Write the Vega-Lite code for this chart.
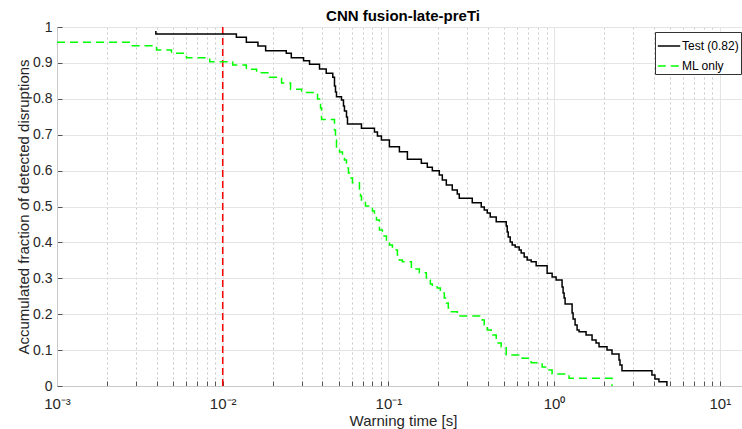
{
  "$schema": "https://vega.github.io/schema/vega-lite/v6.json",
  "width": 692,
  "height": 359,
  "autosize": {"type": "none"},
  "padding": {"left": 57, "top": 27, "right": 0, "bottom": 43},
  "background": "white",
  "title": {"text": "CNN fusion-late-preTi", "font": "Liberation Sans", "fontSize": 15, "fontWeight": "bold", "color": "#000000", "anchor": "middle", "offset": -4},
  "datasets": {
    "curves": [
      {"series": "Test (0.82)", "t": 0.00395, "frac": 0.989},
      {"series": "Test (0.82)", "t": 0.00395, "frac": 0.9805},
      {"series": "Test (0.82)", "t": 0.01209, "frac": 0.9713},
      {"series": "Test (0.82)", "t": 0.01389, "frac": 0.9574},
      {"series": "Test (0.82)", "t": 0.01632, "frac": 0.9471},
      {"series": "Test (0.82)", "t": 0.01816, "frac": 0.934},
      {"series": "Test (0.82)", "t": 0.02419, "frac": 0.9267},
      {"series": "Test (0.82)", "t": 0.02594, "frac": 0.9145},
      {"series": "Test (0.82)", "t": 0.03076, "frac": 0.9061},
      {"series": "Test (0.82)", "t": 0.03342, "frac": 0.8961},
      {"series": "Test (0.82)", "t": 0.03839, "frac": 0.883},
      {"series": "Test (0.82)", "t": 0.04213, "frac": 0.871},
      {"series": "Test (0.82)", "t": 0.04617, "frac": 0.8599},
      {"series": "Test (0.82)", "t": 0.04727, "frac": 0.8357},
      {"series": "Test (0.82)", "t": 0.04793, "frac": 0.8189},
      {"series": "Test (0.82)", "t": 0.0486, "frac": 0.8059},
      {"series": "Test (0.82)", "t": 0.0521, "frac": 0.7967},
      {"series": "Test (0.82)", "t": 0.05356, "frac": 0.7799},
      {"series": "Test (0.82)", "t": 0.0543, "frac": 0.766},
      {"series": "Test (0.82)", "t": 0.05585, "frac": 0.7493},
      {"series": "Test (0.82)", "t": 0.05662, "frac": 0.7298},
      {"series": "Test (0.82)", "t": 0.06876, "frac": 0.7178},
      {"series": "Test (0.82)", "t": 0.08236, "frac": 0.7075},
      {"series": "Test (0.82)", "t": 0.08585, "frac": 0.6964},
      {"series": "Test (0.82)", "t": 0.09075, "frac": 0.6852},
      {"series": "Test (0.82)", "t": 0.1014, "frac": 0.6666},
      {"series": "Test (0.82)", "t": 0.1165, "frac": 0.6526},
      {"series": "Test (0.82)", "t": 0.1302, "frac": 0.6315},
      {"series": "Test (0.82)", "t": 0.158, "frac": 0.6203},
      {"series": "Test (0.82)", "t": 0.1717, "frac": 0.6092},
      {"series": "Test (0.82)", "t": 0.1841, "frac": 0.5997},
      {"series": "Test (0.82)", "t": 0.2028, "frac": 0.5877},
      {"series": "Test (0.82)", "t": 0.2115, "frac": 0.5738},
      {"series": "Test (0.82)", "t": 0.2236, "frac": 0.5599},
      {"series": "Test (0.82)", "t": 0.2429, "frac": 0.546},
      {"series": "Test (0.82)", "t": 0.2604, "frac": 0.5348},
      {"series": "Test (0.82)", "t": 0.2677, "frac": 0.5228},
      {"series": "Test (0.82)", "t": 0.3206, "frac": 0.5106},
      {"series": "Test (0.82)", "t": 0.3633, "frac": 0.4986},
      {"series": "Test (0.82)", "t": 0.3788, "frac": 0.4903},
      {"series": "Test (0.82)", "t": 0.3948, "frac": 0.4819},
      {"series": "Test (0.82)", "t": 0.4116, "frac": 0.4708},
      {"series": "Test (0.82)", "t": 0.4473, "frac": 0.4577},
      {"series": "Test (0.82)", "t": 0.5139, "frac": 0.4457},
      {"series": "Test (0.82)", "t": 0.5212, "frac": 0.429},
      {"series": "Test (0.82)", "t": 0.5284, "frac": 0.415},
      {"series": "Test (0.82)", "t": 0.5432, "frac": 0.4011},
      {"series": "Test (0.82)", "t": 0.5585, "frac": 0.3928},
      {"series": "Test (0.82)", "t": 0.5823, "frac": 0.3872},
      {"series": "Test (0.82)", "t": 0.6155, "frac": 0.3788},
      {"series": "Test (0.82)", "t": 0.6327, "frac": 0.3705},
      {"series": "Test (0.82)", "t": 0.6597, "frac": 0.3593},
      {"series": "Test (0.82)", "t": 0.6877, "frac": 0.351},
      {"series": "Test (0.82)", "t": 0.727, "frac": 0.3462},
      {"series": "Test (0.82)", "t": 0.7791, "frac": 0.3351},
      {"series": "Test (0.82)", "t": 0.9075, "frac": 0.3139},
      {"series": "Test (0.82)", "t": 0.9727, "frac": 0.3036},
      {"series": "Test (0.82)", "t": 1.028, "frac": 0.2953},
      {"series": "Test (0.82)", "t": 1.117, "frac": 0.2758},
      {"series": "Test (0.82)", "t": 1.133, "frac": 0.2591},
      {"series": "Test (0.82)", "t": 1.149, "frac": 0.2451},
      {"series": "Test (0.82)", "t": 1.165, "frac": 0.2284},
      {"series": "Test (0.82)", "t": 1.284, "frac": 0.2033},
      {"series": "Test (0.82)", "t": 1.302, "frac": 0.1866},
      {"series": "Test (0.82)", "t": 1.338, "frac": 0.1699},
      {"series": "Test (0.82)", "t": 1.376, "frac": 0.156},
      {"series": "Test (0.82)", "t": 1.414, "frac": 0.1513},
      {"series": "Test (0.82)", "t": 1.559, "frac": 0.1421},
      {"series": "Test (0.82)", "t": 1.694, "frac": 0.1281},
      {"series": "Test (0.82)", "t": 1.791, "frac": 0.1198},
      {"series": "Test (0.82)", "t": 1.867, "frac": 0.1095},
      {"series": "Test (0.82)", "t": 2.086, "frac": 0.1003},
      {"series": "Test (0.82)", "t": 2.236, "frac": 0.0891},
      {"series": "Test (0.82)", "t": 2.464, "frac": 0.0724},
      {"series": "Test (0.82)", "t": 2.498, "frac": 0.0585},
      {"series": "Test (0.82)", "t": 2.568, "frac": 0.0426},
      {"series": "Test (0.82)", "t": 3.894, "frac": 0.0306},
      {"series": "Test (0.82)", "t": 4.059, "frac": 0.0195},
      {"series": "Test (0.82)", "t": 4.291, "frac": 0.012},
      {"series": "Test (0.82)", "t": 4.794, "frac": 0},
      {"series": "ML only", "t": 0.001, "frac": 0.9574},
      {"series": "ML only", "t": 0.002818, "frac": 0.9479},
      {"series": "ML only", "t": 0.003987, "frac": 0.9359},
      {"series": "ML only", "t": 0.004909, "frac": 0.9267},
      {"series": "ML only", "t": 0.006044, "frac": 0.9145},
      {"series": "ML only", "t": 0.008351, "frac": 0.9034},
      {"series": "ML only", "t": 0.01149, "frac": 0.8942},
      {"series": "ML only", "t": 0.01389, "frac": 0.8822},
      {"series": "ML only", "t": 0.01602, "frac": 0.8727},
      {"series": "ML only", "t": 0.01919, "frac": 0.8599},
      {"series": "ML only", "t": 0.02266, "frac": 0.844},
      {"series": "ML only", "t": 0.02568, "frac": 0.8265},
      {"series": "ML only", "t": 0.02992, "frac": 0.8176},
      {"series": "ML only", "t": 0.03734, "frac": 0.7994},
      {"series": "ML only", "t": 0.03894, "frac": 0.7744},
      {"series": "ML only", "t": 0.03948, "frac": 0.7423},
      {"series": "ML only", "t": 0.04727, "frac": 0.7131},
      {"series": "ML only", "t": 0.04793, "frac": 0.6852},
      {"series": "ML only", "t": 0.0486, "frac": 0.6574},
      {"series": "ML only", "t": 0.05067, "frac": 0.6518},
      {"series": "ML only", "t": 0.05282, "frac": 0.6407},
      {"series": "ML only", "t": 0.0543, "frac": 0.6295},
      {"series": "ML only", "t": 0.05585, "frac": 0.6072},
      {"series": "ML only", "t": 0.05741, "frac": 0.5933},
      {"series": "ML only", "t": 0.05823, "frac": 0.5794},
      {"series": "ML only", "t": 0.06069, "frac": 0.5663},
      {"series": "ML only", "t": 0.06689, "frac": 0.5404},
      {"series": "ML only", "t": 0.06782, "frac": 0.5292},
      {"series": "ML only", "t": 0.06876, "frac": 0.5181},
      {"series": "ML only", "t": 0.0727, "frac": 0.5014},
      {"series": "ML only", "t": 0.08009, "frac": 0.4875},
      {"series": "ML only", "t": 0.08236, "frac": 0.4735},
      {"series": "ML only", "t": 0.08467, "frac": 0.4624},
      {"series": "ML only", "t": 0.0883, "frac": 0.4345},
      {"series": "ML only", "t": 0.09203, "frac": 0.4178},
      {"series": "ML only", "t": 0.09727, "frac": 0.3983},
      {"series": "ML only", "t": 0.1014, "frac": 0.3928},
      {"series": "ML only", "t": 0.1057, "frac": 0.3872},
      {"series": "ML only", "t": 0.1117, "frac": 0.3788},
      {"series": "ML only", "t": 0.1133, "frac": 0.3649},
      {"series": "ML only", "t": 0.1165, "frac": 0.351},
      {"series": "ML only", "t": 0.1214, "frac": 0.3462},
      {"series": "ML only", "t": 0.1376, "frac": 0.3259},
      {"series": "ML only", "t": 0.1537, "frac": 0.3156},
      {"series": "ML only", "t": 0.1694, "frac": 0.3008},
      {"series": "ML only", "t": 0.1742, "frac": 0.2953},
      {"series": "ML only", "t": 0.1791, "frac": 0.2841},
      {"series": "ML only", "t": 0.1841, "frac": 0.2758},
      {"series": "ML only", "t": 0.1973, "frac": 0.273},
      {"series": "ML only", "t": 0.2058, "frac": 0.2591},
      {"series": "ML only", "t": 0.2175, "frac": 0.2451},
      {"series": "ML only", "t": 0.2236, "frac": 0.2312},
      {"series": "ML only", "t": 0.2298, "frac": 0.2173},
      {"series": "ML only", "t": 0.2331, "frac": 0.207},
      {"series": "ML only", "t": 0.2604, "frac": 0.195},
      {"series": "ML only", "t": 0.3684, "frac": 0.1838},
      {"series": "ML only", "t": 0.3788, "frac": 0.1699},
      {"series": "ML only", "t": 0.3948, "frac": 0.156},
      {"series": "ML only", "t": 0.4174, "frac": 0.1421},
      {"series": "ML only", "t": 0.4473, "frac": 0.1198},
      {"series": "ML only", "t": 0.4794, "frac": 0.1086},
      {"series": "ML only", "t": 0.5139, "frac": 0.0864},
      {"series": "ML only", "t": 0.6415, "frac": 0.0772},
      {"series": "ML only", "t": 0.727, "frac": 0.0649},
      {"series": "ML only", "t": 0.8467, "frac": 0.0529},
      {"series": "ML only", "t": 0.9075, "frac": 0.0446},
      {"series": "ML only", "t": 0.9727, "frac": 0.0334},
      {"series": "ML only", "t": 1.231, "frac": 0.0214},
      {"series": "ML only", "t": 2.236, "frac": 0}
    ],
    "threshold": [{"t": 0.01}]
  },
  "layer": [
    {
      "data": {"name": "threshold"},
      "mark": {"type": "rule", "color": "#ff0000", "strokeWidth": 1.5, "strokeDash": [7, 4]},
      "encoding": {
        "x": {"field": "t", "type": "quantitative", "scale": {"type": "log", "domain": [0.001, 15]}}
      }
    },
    {
      "data": {"name": "curves"},
      "mark": {"type": "line", "interpolate": "step-after", "strokeWidth": 1.5, "clip": true},
      "encoding": {
        "x": {
          "field": "t", "type": "quantitative",
          "scale": {"type": "log", "domain": [0.001, 15], "nice": false},
          "title": "Warning time [s]",
          "axis": {
            "values": [0.001, 0.002, 0.003, 0.004, 0.005, 0.006, 0.007, 0.008, 0.009, 0.01, 0.02, 0.03, 0.04, 0.05, 0.06, 0.07, 0.08, 0.09, 0.1, 0.2, 0.3, 0.4, 0.5, 0.6, 0.7, 0.8, 0.9, 1, 2, 3, 4, 5, 6, 7, 8, 9, 10],
            "labelExpr": "abs(datum.value-0.001)<1e-9 ? '10⁻³' : abs(datum.value-0.01)<1e-9 ? '10⁻²' : abs(datum.value-0.1)<1e-9 ? '10⁻¹' : abs(datum.value-1)<1e-9 ? '10⁰' : abs(datum.value-10)<1e-9 ? '10¹' : ''",
            "gridDash": {"condition": {"test": "abs(log(datum.value)/LN10 - round(log(datum.value)/LN10)) < 1e-6", "value": []}, "value": [2, 3]},
            "gridColor": {"condition": {"test": "abs(log(datum.value)/LN10 - round(log(datum.value)/LN10)) < 1e-6", "value": "#e4e4e4"}, "value": "#c8c8c8"},
            "labelFontSize": 15,
            "labelPadding": 15,
            "titlePadding": 2,
            "labelFlush": false,
            "labelOverlap": false
          }
        },
        "y": {
          "field": "frac", "type": "quantitative",
          "scale": {"domain": [0, 1], "nice": false},
          "title": "Accumulated fraction of detected disruptions",
          "axis": {
            "values": [0, 0.1, 0.2, 0.3, 0.4, 0.5, 0.6, 0.7, 0.8, 0.9, 1],
            "format": ".1~f",
            "labelPadding": 10,
            "titlePadding": 1,
            "gridColor": "#e4e4e4"
          }
        },
        "color": {
          "field": "series", "type": "nominal", "title": null,
          "scale": {"domain": ["Test (0.82)", "ML only"], "range": ["#000000", "#00ff00"]}
        },
        "strokeDash": {
          "field": "series", "type": "nominal", "title": null,
          "scale": {"domain": ["Test (0.82)", "ML only"], "range": [[1, 0], [8, 5]]}
        },
        "order": {"field": "frac", "sort": "descending"}
      }
    }
  ],
  "config": {
    "view": {"stroke": null},
    "font": "Liberation Sans",
    "axis": {
      "labelFont": "Liberation Sans",
      "labelFontSize": 14,
      "labelColor": "#262626",
      "titleFont": "Liberation Sans",
      "titleFontSize": 15,
      "titleFontWeight": "normal",
      "titleColor": "#262626",
      "domainColor": "#c8c8c8",
      "tickColor": "#555555",
      "tickSize": -5,
      "grid": true
    },
    "legend": {
      "orient": "none",
      "legendX": 598,
      "legendY": 5,
      "fillColor": "#ffffff",
      "strokeColor": "#333333",
      "padding": 2,
      "symbolType": "stroke",
      "symbolSize": 500,
      "symbolStrokeWidth": 1.5,
      "labelFont": "Liberation Sans",
      "labelFontSize": 12,
      "labelColor": "#000000",
      "rowPadding": 2,
      "labelOffset": 1
    }
  }
}
